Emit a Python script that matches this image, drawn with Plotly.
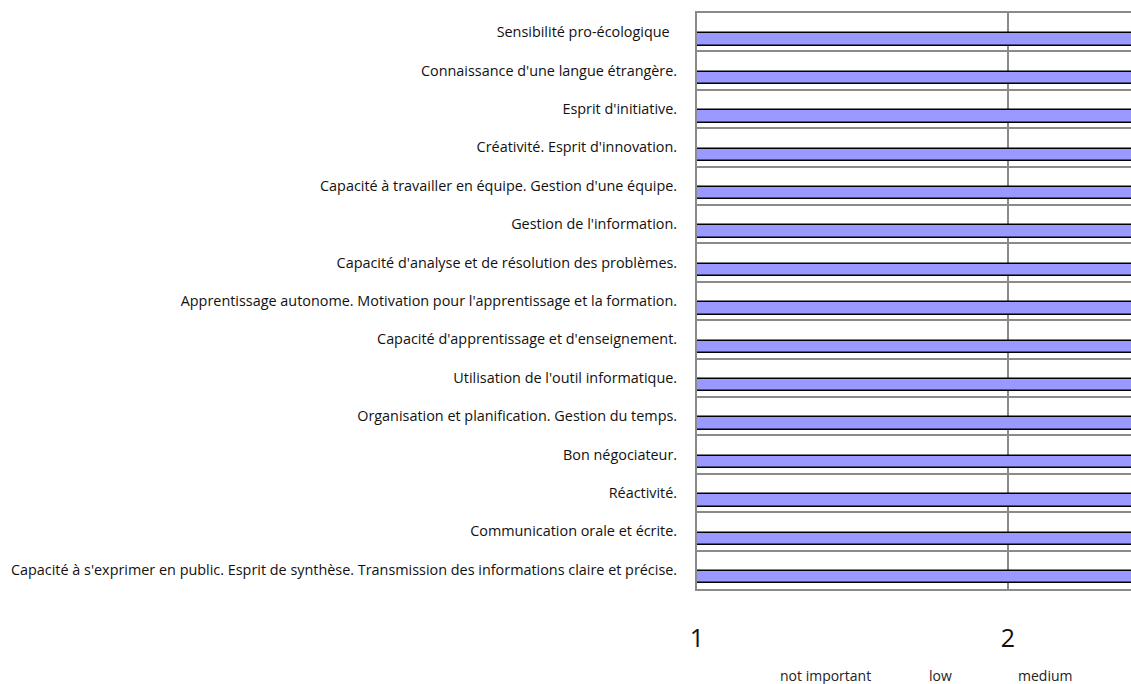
import plotly.graph_objects as go

categories = [
    "Sensibilité pro-écologique\u00a0\u00a0",
    "Connaissance d'une langue étrangère.",
    "Esprit d'initiative.",
    "Créativité. Esprit d'innovation.",
    "Capacité à travailler en équipe. Gestion d'une équipe.",
    "Gestion de l'information.",
    "Capacité d'analyse et de résolution des problèmes.",
    "Apprentissage autonome. Motivation pour l'apprentissage et la formation.",
    "Capacité d'apprentissage et d'enseignement.",
    "Utilisation de l'outil informatique.",
    "Organisation et planification. Gestion du temps.",
    "Bon négociateur.",
    "Réactivité.",
    "Communication orale et écrite.",
    "Capacité à s'exprimer en public. Esprit de synthèse. Transmission des informations claire et précise.",
]
# values extend beyond the visible part of the chart (estimates)
values = [3.6, 3.9, 4.0, 3.8, 4.1, 3.9, 4.2, 4.0, 3.7, 4.1, 4.0, 3.8, 4.0, 4.2, 3.9]

tick_vals = [1, 2]
tick_text = ["1", "2"]
scale_labels = ["not important", "low", "medium"]
scale_pos = [1.412, 1.782, 2.118]

FONT = "Open Sans, Lato, sans-serif"

fig = go.Figure()
fig.add_trace(go.Bar(
    y=categories, x=values, orientation="h",
    offset=0.03, width=0.325,
    marker=dict(color="#9999FF", line=dict(color="#000000", width=1.6)),
    showlegend=False, hoverinfo="x+y",
))

for lbl, pos in zip(scale_labels, scale_pos):
    fig.add_annotation(x=pos, xref="x", y=-0.15, yref="paper", text=lbl,
                       showarrow=False, font=dict(family=FONT, size=14, color="#222"),
                       xanchor="center", yanchor="middle")

fig.update_layout(
    width=1131, height=684,
    margin=dict(l=697, r=0, t=13, b=95),
    paper_bgcolor="white", plot_bgcolor="white",
    bargap=0,
    font=dict(family=FONT, color="#111"),
    xaxis=dict(range=[1, 1 + 434 / 311], tickvals=tick_vals, ticktext=tick_text,
               showgrid=True, gridcolor="#8a8a8a", gridwidth=1.5,
               showline=True, linecolor="#8a8a8a", linewidth=1.5, mirror=True,
               ticks="", ticklabelstandoff=26, zeroline=False,
               tickfont=dict(size=25, color="#111")),
    yaxis=dict(autorange="reversed", type="category", tickson="boundaries",
               showgrid=True, gridcolor="#8a8a8a", gridwidth=1.5,
               showline=True, linecolor="#8a8a8a", linewidth=2, mirror=False,
               ticks="", ticklabelstandoff=15,
               tickfont=dict(size=14.4, color="#111")),
)

fig.write_html("out.html",
               config={"displayModeBar": False},
               post_script="document.body.style.margin='0';document.body.style.overflow='hidden';")
